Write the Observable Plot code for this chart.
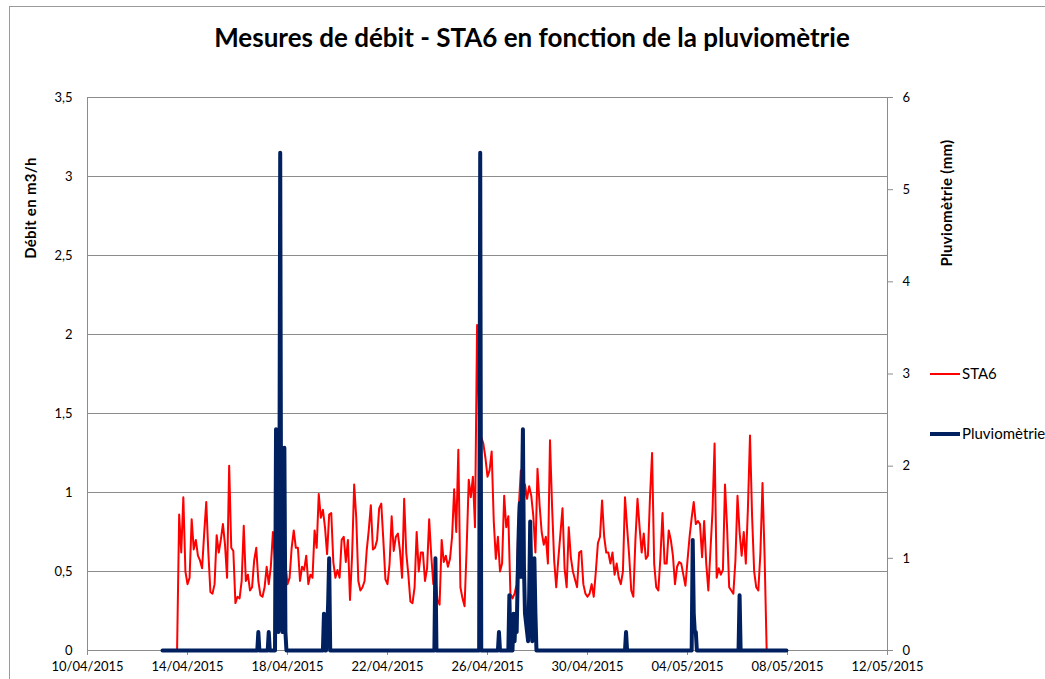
<!DOCTYPE html>
<html><head><meta charset="utf-8">
<script src="https://cdn.jsdelivr.net/npm/d3@7"></script>
<script src="https://cdn.jsdelivr.net/npm/@observablehq/plot@0.6"></script>
<style>
body{margin:0;background:#fff;font-family:Lato,"Open Sans",sans-serif;color:#000;}
#wrap{position:relative;width:1045px;height:679px;overflow:hidden;background:#fff;}
#frame{position:absolute;left:9px;top:6px;width:1100px;height:800px;border:1px solid #9a9a9a;box-sizing:border-box;}
#title{position:absolute;left:0;top:24px;width:1064px;text-align:center;font-weight:bold;font-size:26px;line-height:1;}
.ylab{position:absolute;font-weight:bold;font-size:15px;letter-spacing:0.3px;white-space:nowrap;transform:translate(-50%,-50%) rotate(-90deg);}
.leg{position:absolute;font-size:15px;white-space:nowrap;}
.sw{position:absolute;width:30px;}
#chart{position:absolute;left:0;top:0;}
</style>
</head><body>
<div id="wrap">
  <div id="frame"></div>
  <div id="chart"></div>
  <div id="title"></div>
  <div class="ylab" id="ylabL" style="left:30px;top:208px;"></div>
  <div class="ylab" id="ylabR" style="left:946px;top:203px;"></div>
  <div id="legend"></div>
</div>
<script>
// ---------- data ----------
const titleText = "Mesures de débit - STA6 en fonction de la pluviomètrie";
const yLabelLeft = "Débit en m3/h";
const yLabelRight = "Pluviomètrie (mm)";
const seriesNames = ["STA6", "Pluviomètrie"];
const seriesColors = ["#ff0000", "#002060"];

const xTickLabels = ["10/04/2015","14/04/2015","18/04/2015","22/04/2015","26/04/2015","30/04/2015","04/05/2015","08/05/2015","12/05/2015"];
const yTicksLeft = [0, 0.5, 1, 1.5, 2, 2.5, 3, 3.5];
const yTicksRight = [0, 1, 2, 3, 4, 5, 6];

// STA6 flow (m3/h), one reading every 2 hours from 13/04/2015 14:00
const sta6Start = "2015-04-13T14:00:00Z";
const sta6StepHours = 2;
const sta6Values = [
0,0.86,0.62,0.97,0.50,0.42,0.46,0.83,0.64,0.70,0.60,0.57,0.52,0.74,0.94,0.62,0.37,0.36,0.42,0.73,
0.62,0.70,0.80,0.67,0.46,1.17,0.65,0.63,0.30,0.34,0.33,0.44,0.79,0.44,0.48,0.38,0.40,0.57,0.65,0.44,
0.35,0.34,0.40,0.53,0.42,0.53,0.75,0.57,0.70,0.65,0.55,0.58,0.55,0.42,0.46,0.65,0.76,0.65,0.65,0.44,
0.53,0.51,0.60,0.42,0.48,0.46,0.76,0.65,0.99,0.84,0.89,0.78,0.61,0.86,0.87,0.56,0.46,0.51,0.46,0.70,
0.72,0.56,0.70,0.32,0.60,1.05,0.84,0.44,0.38,0.40,0.44,0.63,0.76,0.92,0.64,0.65,0.70,0.90,0.93,0.70,
0.45,0.42,0.55,0.85,0.63,0.72,0.74,0.63,0.46,0.96,0.62,0.48,0.31,0.30,0.40,0.75,0.50,0.62,0.62,0.44,
0.52,0.83,0.60,0.42,0.45,0.32,0.29,0.70,0.56,0.60,0.53,0.58,0.72,1.02,0.75,1.27,0.40,0.33,0.28,0.65,
1.08,0.97,1.10,0.78,2.06,1.40,1.35,1.31,1.22,1.10,1.14,1.26,0.82,0.58,0.72,0.50,0.55,0.98,0.78,0.85,
0.36,0.33,0.36,0.42,0.90,1.14,0.84,1.05,0.96,1.04,0.98,0.85,0.62,1.15,0.92,0.75,0.67,0.72,0.55,1.33,
0.91,0.57,0.40,0.58,0.74,0.90,0.52,0.40,0.78,0.59,0.50,0.45,0.40,0.62,0.63,0.42,0.36,0.34,0.36,0.42,
0.34,0.50,0.68,0.72,0.95,0.72,0.62,0.62,0.55,0.62,0.48,0.55,0.46,0.42,0.50,0.97,0.78,0.60,0.38,0.34,
0.70,0.96,0.78,0.62,0.74,0.58,0.60,0.97,1.25,0.55,0.40,0.38,0.59,0.87,0.55,0.55,0.76,0.70,0.60,0.42,
0.53,0.56,0.55,0.48,0.41,0.57,0.72,0.84,0.94,0.80,0.82,0.80,0.59,0.82,0.55,0.38,0.63,0.88,1.31,0.46,
0.52,0.48,0.51,1.05,0.78,0.40,0.38,0.36,0.57,0.98,0.75,0.60,0.75,0.55,0.90,1.36,0.85,0.50,0.40,0.38,
0.62,1.06,0.60,0
];

// Rainfall (mm), hourly readings around each event
const rainTimes = [
"2015-04-13T00:00",
"2015-04-16T19:00","2015-04-16T20:00","2015-04-16T21:00",
"2015-04-17T05:00","2015-04-17T06:00","2015-04-17T07:00",
"2015-04-17T12:00","2015-04-17T13:00","2015-04-17T14:00","2015-04-17T15:00","2015-04-17T16:00","2015-04-17T17:00",
"2015-04-17T18:00","2015-04-17T19:00","2015-04-17T20:00","2015-04-17T21:00","2015-04-17T22:00","2015-04-17T23:00",
"2015-04-19T10:00","2015-04-19T11:00","2015-04-19T12:00","2015-04-19T13:00","2015-04-19T14:00","2015-04-19T15:00","2015-04-19T16:00","2015-04-19T17:00",
"2015-04-23T21:00","2015-04-23T22:00","2015-04-23T23:00",
"2015-04-25T16:00","2015-04-25T17:00","2015-04-25T18:00",
"2015-04-26T10:00","2015-04-26T11:00","2015-04-26T12:00",
"2015-04-26T20:00","2015-04-26T21:00","2015-04-26T22:00","2015-04-27T00:00","2015-04-27T01:00","2015-04-27T02:00",
"2015-04-27T03:00","2015-04-27T04:00","2015-04-27T05:00","2015-04-27T06:00","2015-04-27T07:00","2015-04-27T08:00",
"2015-04-27T09:00","2015-04-27T10:00","2015-04-27T11:00","2015-04-27T12:00","2015-04-27T13:00","2015-04-27T14:00",
"2015-04-27T15:00","2015-04-27T16:00","2015-04-27T17:00","2015-04-27T18:00","2015-04-27T19:00","2015-04-27T20:00",
"2015-04-27T21:00","2015-04-27T22:00","2015-04-27T23:00",
"2015-05-01T12:00","2015-05-01T13:00","2015-05-01T14:00",
"2015-05-04T04:00","2015-05-04T05:00","2015-05-04T06:00","2015-05-04T07:00","2015-05-04T08:00","2015-05-04T09:00",
"2015-05-06T01:00","2015-05-06T02:00","2015-05-06T03:00",
"2015-05-07T23:00"
];
const rainValues = [
0,
0,0.2,0,
0,0.2,0,
0,2.4,0.6,0.2,0.4,5.4,
0.6,0.2,0.4,2.2,0.2,0,
0,0.4,0,0,0.2,0.5,1.0,0,
0,1.0,0,
0,5.4,0,
0,0.2,0,
0,0.6,0,0,0.4,0.1,
0.4,0.2,0.8,1.3,1.6,0.8,
1.6,2.4,0.9,0.4,0.3,0.2,
0.1,0.6,1.4,0.8,0.1,0.2,
1.0,0.4,0,
0,0.2,0,
0,1.2,0.4,0.2,0.2,0,
0,0.6,0,
0
];

// ---------- build ----------
const k = yTicksLeft[yTicksLeft.length-1] / yTicksRight[yTicksRight.length-1];
const t0 = Date.parse(sta6Start);
const sta6Data = sta6Values.map((v,i)=>({date:new Date(t0 + i*sta6StepHours*3600e3), value:v}));
const rainData = rainTimes.map((t,i)=>({date:new Date(t+":00Z"), value:rainValues[i]}));
const parseFr = d3.utcParse("%d/%m/%Y");
const xTickDates = xTickLabels.map(parseFr);
const xDomain = [xTickDates[0], xTickDates[xTickDates.length-1]];
const grey = "#8c8c8c";

const chart = Plot.plot({
  width:1045, height:679,
  marginLeft:87, marginRight:158, marginTop:97, marginBottom:29,
  style:{background:"transparent", fontFamily:"Lato, 'Open Sans', sans-serif", fontSize:"13px", color:"#000", overflow:"visible"},
  x:{type:"utc", domain:xDomain},
  y:{domain:[0, yTicksLeft[yTicksLeft.length-1]]},
  marks:[
    Plot.ruleY(yTicksLeft, {stroke:grey, strokeWidth:1}),
    Plot.ruleX(xDomain, {stroke:grey, strokeWidth:1}),
    Plot.axisY(yTicksLeft, {anchor:"left", tickSize:0, tickPadding:15, label:null, fontSize:13,
      tickFormat:d=>String(d).replace(".", ",")}),
    Plot.axisY(yTicksRight.map(d=>d*k), {anchor:"right", tickSize:5, tickPadding:10, label:null, fontSize:13,
      stroke:grey, tickFormat:d=>String(Math.round(d/k))}),
    Plot.axisX(xTickDates, {tickSize:5, tickPadding:6, label:null, fontSize:13, stroke:grey,
      tickFormat:d3.utcFormat("%d/%m/%Y")}),
    Plot.line(sta6Data, {x:"date", y:"value", stroke:seriesColors[0], strokeWidth:2}),
    Plot.line(rainData, {x:"date", y:d=>d.value*k, stroke:seriesColors[1], strokeWidth:4, strokeLinejoin:"round"})
  ]
});
document.getElementById("chart").appendChild(chart);
document.getElementById("title").textContent = titleText;
document.getElementById("ylabL").textContent = yLabelLeft;
document.getElementById("ylabR").textContent = yLabelRight;

const legend = document.getElementById("legend");
const legY = [374, 434];
const legH = [2, 4];
seriesNames.forEach((name,i)=>{
  const sw = document.createElement("div");
  sw.className = "sw";
  sw.style.left = "930px";
  sw.style.top = (legY[i]-legH[i]/2)+"px";
  sw.style.height = legH[i]+"px";
  sw.style.background = seriesColors[i];
  legend.appendChild(sw);
  const tx = document.createElement("div");
  tx.className = "leg";
  tx.style.left = "962px";
  tx.style.top = (legY[i]-10)+"px";
  tx.textContent = name;
  legend.appendChild(tx);
});
</script>
</body></html>
